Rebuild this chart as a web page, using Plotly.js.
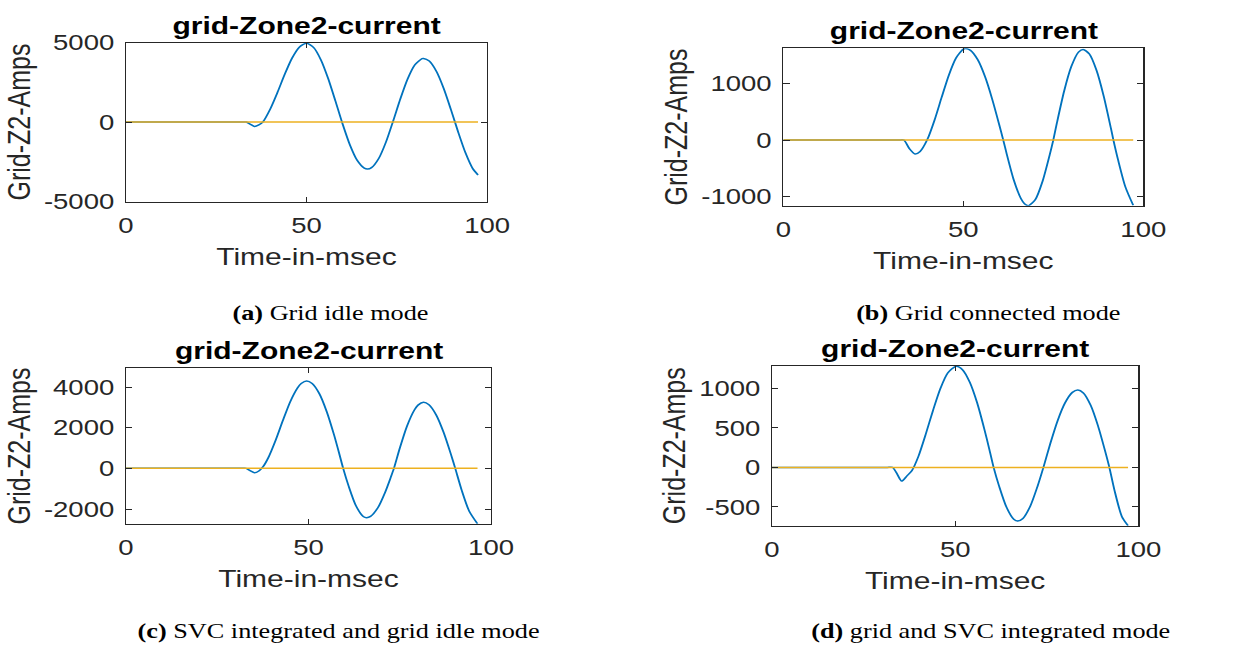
<!DOCTYPE html>
<html>
<head>
<meta charset="utf-8">
<script src="https://cdn.plot.ly/plotly-3.0.1.min.js"></script>
<style>
html,body{margin:0;padding:0;background:#fff;overflow:hidden;}
#wrap{width:1246px;height:650px;overflow:hidden;}
#chart{width:997px;height:650px;transform:scaleX(1.2497);transform-origin:0 0;}
</style>
</head>
<body>
<div id="wrap"><div id="chart"></div></div>
<script>
// ---- data (time in msec, current in A) ----
const tA = [0, 8, 16, 24, 29, 32, 33.3, 34.5, 35.6, 36.8, 37.9, 40, 42, 44, 46, 48, 50, 52, 54, 56, 58, 60, 62, 64, 66, 66.9, 68, 70, 72, 74, 76, 78, 80, 82, 82.4, 84, 86, 88, 90, 92, 94, 96, 97.5];
const iA = [0, 0, 0, 0, 0, 0, 0, -150, -275, -180, 0, 838, 1882, 3014, 4017, 4709, 4950, 4680, 3906, 2735, 1326, -129, -1433, -2403, -2905, -2960, -2873, -2295, -1264, 64, 1463, 2709, 3596, 3988, 4000, 3832, 3175, 2107, 778, -628, -1923, -2915, -3330];

const tB = [0, 8, 16, 24, 29, 32, 33.5, 35, 36.6, 38, 40, 42, 44, 46, 48, 50, 50.7, 52, 54, 56, 58, 60, 61.1, 62, 64, 66, 67, 68.1, 70, 72, 74, 75, 76, 78, 80, 82, 83.3, 85, 87, 89, 91, 91.7, 93, 95, 97.2];
const iB = [0, 0, 0, 0, 0, 0, 0, -150, -247, -202, 8, 350, 757, 1150, 1451, 1604, 1615, 1584, 1419, 1125, 728, 266, 0, -232, -702, -1033, -1125, -1159, -1052, -732, -262, 0, 301, 861, 1297, 1552, 1600, 1520, 1232, 776, 209, 0, -351, -822, -1152];

const tC = [0, 8, 16, 24, 29, 31.5, 32.9, 34, 35.2, 36.4, 37.5, 39, 41, 43, 45, 47, 48, 49.5, 51, 53, 55, 57, 58.5, 59.5, 61, 63, 65, 65.9, 67, 69, 71, 72.5, 73.4, 75, 77, 79, 80, 81.5, 83, 85, 87, 89, 90.2, 92, 94, 96.3];
const iC = [0, 0, 0, 0, 0, 0, 0, -110, -213, -130, 69, 528, 1382, 2362, 3279, 3960, 4174, 4294, 4175, 3664, 2787, 1643, 671, 0, -873, -1837, -2367, -2426, -2362, -1934, -1170, -456, 0, 990, 2086, 2871, 3109, 3245, 3127, 2619, 1772, 698, 0, -1093, -2093, -2724];

const tD = [0, 8, 16, 24, 29, 31.5, 32.9, 34, 35.4, 36.8, 38.2, 40, 42, 44, 46, 48, 50.3, 52, 54, 56, 58, 59.3, 60.5, 62, 64, 66, 67.1, 68.5, 70.5, 72.5, 74.1, 76, 78, 80, 82, 83.5, 85, 87, 89, 91, 92.1, 93.5, 95.5, 97.2];
const iD = [0, 0, 0, 0, 0, 0, 0, -70, -173, -110, -40, 143, 424, 727, 1001, 1196, 1280, 1237, 1078, 818, 479, 235, 0, -237, -502, -656, -679, -646, -491, -238, 0, 305, 594, 816, 949, 979, 943, 786, 525, 196, 0, -291, -620, -738];

// second (near-zero) trace in each panel
const zA_t = [0, 97.5],  zA_v = [0, 0];
const zB_t = [0, 97.2],  zB_v = [0, 0];
const zC_t = [0, 96.3],  zC_v = [0, 0];
const zD_t = [0, 97.2],  zD_v = [0, 0];

const xTicks = [0, 50, 100];
const yTicksA = [-5000, 0, 5000];
const yTicksB = [-1000, 0, 1000];
const yTicksC = [-2000, 0, 2000, 4000];
const yTicksD = [-500, 0, 500, 1000];

const plotTitle = 'grid-Zone2-current';
const xTitle = 'Time-in-msec';
const yTitle = 'Grid-Z2-Amps';
const captions = ['<b>(a)</b> Grid idle mode', '<b>(b)</b> Grid connected mode',
                  '<b>(c)</b> SVC integrated and grid idle mode', '<b>(d)</b> grid and SVC integrated mode'];

// ---- styling ----
const BLUE = '#0072BD', YEL = '#EDB120', AX = '#262626';
const sans = 'Liberation Sans, Arial, sans-serif';
const serif = 'Liberation Serif, Times New Roman, serif';

function blue(t, v, xa, ya) {
  return {x: t, y: v, xaxis: xa, yaxis: ya, type: 'scatter', mode: 'lines',
          line: {color: BLUE, width: 1.5, shape: 'spline', smoothing: 0.7}, hoverinfo: 'skip'};
}
function yel(t, v, xa, ya) {
  return {x: t, y: v, xaxis: xa, yaxis: ya, type: 'scatter', mode: 'lines',
          line: {color: YEL, width: 1.5}, hoverinfo: 'skip'};
}
const data = [
  blue(tA, iA, 'x', 'y'), yel(zA_t, zA_v, 'x', 'y'),
  blue(tB, iB, 'x2', 'y2'), yel(zB_t, zB_v, 'x2', 'y2'),
  blue(tC, iC, 'x3', 'y3'), yel(zC_t, zC_v, 'x3', 'y3'),
  blue(tD, iD, 'x4', 'y4'), yel(zD_t, zD_v, 'x4', 'y4')
];

function xax(dom, anchor) {
  return {domain: dom, anchor: anchor, range: [0, 100], tickvals: xTicks, ticktext: xTicks.map(String),
          ticks: 'inside', ticklen: 5,
          tickcolor: AX, showline: true, linecolor: AX, linewidth: 1, mirror: 'ticks',
          showgrid: false, zeroline: false, ticklabelstandoff: 4,
          tickfont: {family: sans, size: 22, color: AX},
          title: {text: xTitle, font: {family: sans, size: 24, color: AX}, standoff: 11}};
}
function yax(dom, anchor, rng, tv) {
  return {domain: dom, anchor: anchor, range: rng, tickvals: tv, ticktext: tv.map(String),
          ticks: 'inside', ticklen: 5,
          tickcolor: AX, showline: true, linecolor: AX, linewidth: 1, mirror: 'ticks',
          showgrid: false, zeroline: false, ticklabelstandoff: 4,
          tickfont: {family: sans, size: 22, color: AX},
          title: {text: yTitle, font: {family: sans, size: 25, color: AX}, standoff: 3}};
}

function titleAnn(x, y) {
  return {text: '<b>' + plotTitle + '</b>', x: x, y: y, xref: 'paper', yref: 'paper',
          xanchor: 'center', yanchor: 'middle', showarrow: false,
          font: {family: sans, size: 24, color: '#000'}};
}
function capAnn(txt, x, y) {
  return {text: txt, x: x, y: y, xref: 'paper', yref: 'paper', xanchor: 'center', yanchor: 'middle',
          showarrow: false, font: {family: serif, size: 21, color: '#000'}};
}

const layout = {
  width: 997, height: 650,
  margin: {l: 0, r: 0, t: 0, b: 0},
  paper_bgcolor: '#fff', plot_bgcolor: '#fff',
  showlegend: false,
  xaxis:  xax([0.1011, 0.3909], 'y'),
  yaxis:  yax([0.6900, 0.9346], 'x',  [-5000, 5000], yTicksA),
  xaxis2: xax([0.6287, 0.9176], 'y2'),
  yaxis2: yax([0.6835, 0.9257], 'x2', [-1160, 1620], yTicksB),
  xaxis3: xax([0.1011, 0.3941], 'y3'),
  yaxis3: yax([0.1943, 0.4334], 'x3', [-2720, 4920], yTicksC),
  xaxis4: xax([0.6196, 0.9136], 'y4'),
  yaxis4: yax([0.1912, 0.4374], 'x4', [-738, 1287], yTicksD),
  annotations: [
    titleAnn(0.2464, 0.9615), titleAnn(0.7737, 0.9538),
    titleAnn(0.2480, 0.4615), titleAnn(0.7665, 0.4646),
    capAnn(captions[0], 0.2657, 0.5185), capAnn(captions[1], 0.7929, 0.5185),
    capAnn(captions[2], 0.2721, 0.0300), capAnn(captions[3], 0.7953, 0.0300)
  ]
};

Plotly.newPlot('chart', data, layout, {staticPlot: true, displayModeBar: false});
</script>
</body>
</html>
